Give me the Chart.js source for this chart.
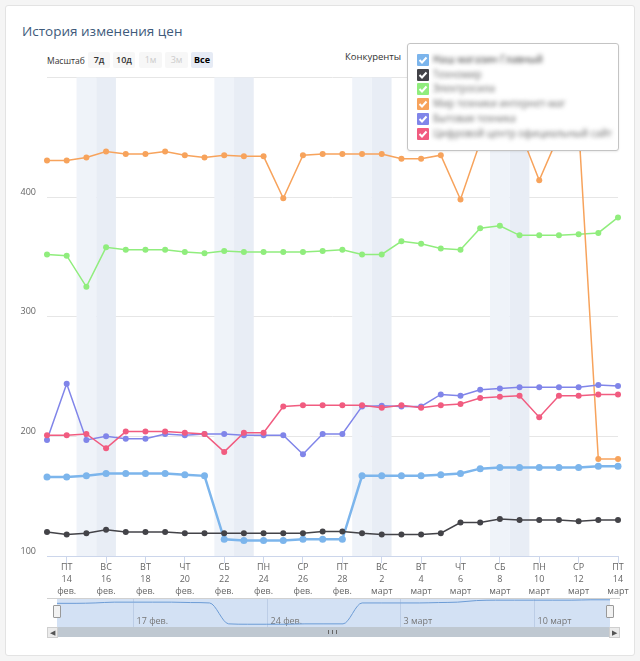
<!DOCTYPE html>
<html><head><meta charset="utf-8">
<script src="https://cdn.jsdelivr.net/npm/chart.js@4.4.0/dist/chart.umd.min.js"></script>
<style>
html,body{margin:0;padding:0;background:#f5f5f5;width:640px;height:661px;overflow:hidden;font-family:"Open Sans",sans-serif;}
.abs{position:absolute;}
#panel{left:5px;top:5px;width:628px;height:649px;background:#fff;border:1px solid #e3e3e3;border-radius:3px;}
#title{left:22px;top:22px;font-size:13.5px;line-height:18px;color:#3e5a7b;white-space:nowrap;}
#scaleLbl{left:47px;top:55px;font-size:8.5px;line-height:12px;color:#333;}
.btn{top:52px;height:16px;line-height:16px;font-size:9px;text-align:center;background:#f7f7f7;color:#333;font-weight:600;border-radius:2px;}
#comp{left:345px;top:50px;font-size:9.5px;line-height:14px;color:#333;}
#mainWrap{left:0;top:61px;width:640px;height:539px;}
#legend{left:407px;top:43px;width:210px;height:106px;background:#fff;border:1px solid #c4c4c4;border-radius:3px;box-shadow:0 1px 2px rgba(0,0,0,0.08);}
.row{position:absolute;left:9px;height:12px;}
.cb{position:absolute;left:0;top:0;width:12px;height:12px;border-radius:1px;}
.cb svg{position:absolute;left:0;top:0;}
.nm{position:absolute;left:16px;top:-1px;font-size:10px;line-height:13px;color:#666;white-space:nowrap;filter:blur(2px);}
#navWrap{left:57px;top:599px;width:553px;height:28px;}
#navTop{left:47px;top:598px;width:573px;height:1px;background:#d0d0d0;}
.handle{top:605px;width:6px;height:11px;background:#f2f2f2;border:1px solid #999;border-radius:1px;}
#scroll{left:47px;top:627px;width:573px;height:10px;background:#bfc8d1;}
.sbtn{top:627px;width:9px;height:9px;background:#ebebeb;border:1px solid #cfcfcf;font-size:7px;line-height:9px;text-align:center;color:#555;}
#grip{left:328px;top:630px;width:7px;height:4px;border-left:1px solid #666;border-right:1px solid #666;}
#grip:after{content:"";position:absolute;left:3px;top:0;width:1px;height:4px;background:#666;}
</style></head>
<body>
<div id="panel" class="abs"></div>
<div id="title" class="abs">История изменения цен</div>
<div id="scaleLbl" class="abs">Масштаб</div>
<div class="abs btn" style="left:88px;width:22px;">7д</div>
<div class="abs btn" style="left:113px;width:22px;">10д</div>
<div class="abs btn" style="left:139px;width:23px;color:#cccccc;font-weight:normal;">1м</div>
<div class="abs btn" style="left:165px;width:23px;color:#cccccc;font-weight:normal;">3м</div>
<div class="abs btn" style="left:191px;width:22px;background:#e6ebf5;color:#000;font-weight:bold;">Все</div>
<div id="comp" class="abs">Конкуренты</div>
<div id="mainWrap" class="abs"><canvas id="main" width="640" height="539"></canvas></div>
<div id="legend" class="abs"></div>
<div id="navTop" class="abs"></div>
<div id="navWrap" class="abs"><canvas id="nav" width="553" height="28"></canvas></div>
<div class="abs handle" style="left:53px;"></div>
<div class="abs handle" style="left:606px;"></div>
<div id="scroll" class="abs"></div>
<div class="abs sbtn" style="left:47px;">&#9664;</div>
<div class="abs sbtn" style="left:609px;">&#9654;</div>
<div id="grip" class="abs"></div>
<script>
// ---- data ----
const dayNums = [13,14,15,16,17,18,19,20,21,22,23,24,25,26,27,28,1,2,3,4,5,6,7,8,9,10,11,12,13,14];
const weekdays = ['ЧТ','ПТ','СБ','ВС','ПН','ВТ','СР','ЧТ','ПТ','СБ','ВС','ПН','ВТ','СР','ЧТ','ПТ','СБ','ВС','ПН','ВТ','СР','ЧТ','ПТ','СБ','ВС','ПН','ВТ','СР','ЧТ','ПТ'];
const months = ['фев.','фев.','фев.','фев.','фев.','фев.','фев.','фев.','фев.','фев.','фев.','фев.','фев.','фев.','фев.','фев.','март','март','март','март','март','март','март','март','март','март','март','март','март','март'];
const weekendIdx = [2,3,9,10,16,17,23,24];
const navTickIdx = [4,11,18,25];
const seriesNames = ['Наш магазин Главный','Техномир','Электросила','Мир техники интернет-маг','Бытовая техника','Цифровой центр официальный сайт'];
const seriesColors = ['#7cb5ec','#434348','#90ed7d','#f7a35c','#8085e9','#f15c80'];
const sLightBlue = [166,166,167,169,169,169,169,168,167,114,113,113,113,114,114,114,167,167,167,167,168,169,173,174,174,174,174,174,175,175];
const sDark = [120,118,119,122,120,120,120,119,119,119,119,119,119,119,120.5,120.5,119,118,118,118,119,128,128,131,130,130,130,129,130,130];
const sGreen = [352,351,325,358,356,356,356,354,353,355,354,354,354,354,355,356,352,352,363,361,357,356,374,376,368,368,368,369,370,383];
const sOrange = [430.5,430.5,433,438,436,436,438,435,433,435,434,434,399,435,436,436,436,436,432,432,435,398,446,452,456,414,452,460,181,181];
const sPurple = [197,244,197,200,198,198,202,201,202,202,201,201,201,185,202,202,225,225.5,225,225,235,234,239,240,241,241,241,241,243,242];
const sPink = [201,201,202,190,204,204,204,203,202,187,203,203,225,226,226,226,226,224,226,224,226,227,232,233,234,216,234,234,235,235];
const yTicks = [100,200,300,400];

const allSeries = [sLightBlue,sDark,sGreen,sOrange,sPurple,sPink];
const labels = dayNums.map((d,i)=>[weekdays[i], String(d), months[i]]);

// legend
const lg = document.getElementById('legend');
seriesNames.forEach((n,i)=>{
  const r = document.createElement('div'); r.className='row'; r.style.top=(10+i*14.7)+'px';
  r.innerHTML = '<div class="cb" style="background:'+seriesColors[i]+'"><svg width="12" height="12"><polyline points="2.5,6 5,8.5 9.5,3.5" fill="none" stroke="#fff" stroke-width="2"/></svg></div><div class="nm" style="'+(i===0?'color:#333;':'')+'">'+n+'</div>';
  lg.appendChild(r);
});

const bandPlugin = {
  id:'bands',
  beforeDatasetsDraw(chart){
    const {ctx, chartArea:a, scales:{x}} = chart;
    const half = (x.getPixelForValue(1)-x.getPixelForValue(0))/2;
    ctx.save();
    weekendIdx.forEach(i=>{
      const c = x.getPixelForValue(i);
      ctx.fillStyle = weekdays[i]==='СБ' ? '#eff3f9' : '#e8edf5';
      ctx.fillRect(c-half, a.top, half*2, a.bottom-a.top);
    });
    ctx.restore();
  }
};

new Chart(document.getElementById('main'), {
  type:'line',
  data:{
    labels: labels,
    datasets: allSeries.map((s,i)=>({
      label: seriesNames[i], data: s,
      borderColor: seriesColors[i], backgroundColor: seriesColors[i],
      pointBackgroundColor: seriesColors[i], pointBorderWidth:0,
      borderWidth: i===0 ? 2.5 : 1.5, pointRadius: i===0 ? 3.5 : 3,
      tension:0, order: allSeries.length - i
    }))
  },
  options:{
    responsive:false, animation:false, devicePixelRatio:1,
    layout:{padding:{top:0,right:22,bottom:0,left:0}},
    plugins:{legend:{display:false}, tooltip:{enabled:false}},
    scales:{
      x:{
        offset:false,
        afterFit(s){ s.height = 44; },
        border:{display:true,color:'#ccd6eb',width:1},
        grid:{drawOnChartArea:false, drawTicks:true, tickLength:7, color:'#ccd6eb'},
        ticks:{autoSkip:false, maxRotation:0, padding:-1, color:'#666',
          font:{family:'"Open Sans", sans-serif', size:9, lineHeight:1.3},
          callback(v,i){ return i%2===1 ? labels[i] : null; }}
      },
      y:{
        min:100, max:500,
        afterFit(s){ s.width = 47; },
        border:{display:false},
        grid:{color:'#e6e6e6', drawTicks:false},
        ticks:{stepSize:100, padding:11, labelOffset:-5, color:'#666',
          font:{family:'"Open Sans", sans-serif', size:9},
          callback(v){ return yTicks.includes(v) ? String(v) : ''; }}
      }
    }
  },
  plugins:[bandPlugin]
});

const navPlugin = {
  id:'navbg',
  beforeDraw(chart){
    const {ctx, width, height} = chart;
    ctx.save(); ctx.fillStyle='#d3e1f4'; ctx.fillRect(0,0,width,height); ctx.restore();
  },
  beforeDatasetsDraw(chart){
    const {ctx, scales:{x}, height} = chart;
    ctx.save();
    ctx.strokeStyle='#bccde6'; ctx.lineWidth=1;
    ctx.fillStyle='#777'; ctx.font='9px "Open Sans", sans-serif'; ctx.textBaseline='middle';
    navTickIdx.forEach(i=>{
      const px = Math.round(x.getPixelForValue(i))+0.5;
      ctx.beginPath(); ctx.moveTo(px,0); ctx.lineTo(px,height); ctx.stroke();
      ctx.fillText(dayNums[i]+' '+months[i], px+3, 22);
    });
    ctx.restore();
  }
};
new Chart(document.getElementById('nav'), {
  type:'line',
  data:{labels: dayNums.map(String), datasets:[{data:sLightBlue, borderColor:'#6c9cd6', borderWidth:1, pointRadius:0, cubicInterpolationMode:'monotone', fill:false}]},
  options:{responsive:false, animation:false, devicePixelRatio:1,
    layout:{padding:0},
    plugins:{legend:{display:false}, tooltip:{enabled:false}},
    scales:{x:{display:false, offset:false}, y:{display:false, min:106, max:177}}
  },
  plugins:[navPlugin]
});
</script>
</body></html>
